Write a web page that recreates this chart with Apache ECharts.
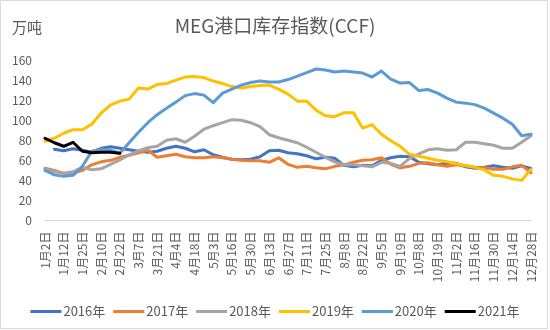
<!DOCTYPE html>
<html>
<head>
<meta charset="utf-8">
<script src="https://cdn.jsdelivr.net/npm/echarts@6/dist/echarts.min.js"></script>
<style>
  html, body { margin: 0; padding: 0; background: #fff; }
  #chart { width: 550px; height: 330px; }
</style>
</head>
<body>
<div id="chart"></div>
<script>
// Weekly sampling dates (every other one is labelled on the axis)
const categories = ['1月2日','1月7日','1月12日','1月18日','1月25日','2月1日','2月10日','2月15日','2月22日','2月28日',
  '3月7日','3月14日','3月21日','3月28日','4月4日','4月11日','4月18日','4月25日','5月3日','5月9日',
  '5月16日','5月23日','5月30日','6月6日','6月13日','6月20日','6月27日','7月4日','7月11日','7月18日',
  '7月25日','8月1日','8月8日','8月15日','8月22日','8月29日','9月5日','9月12日','9月19日','9月26日',
  '10月8日','10月12日','10月19日','10月26日','11月2日','11月9日','11月16日','11月23日','11月30日','12月7日',
  '12月14日','12月21日','12月28日'];

// Port inventory, 10k tonnes
const y2016 = [null, 71, 69.5, 71.5, 70, 68, 72, 73.5, 72, 70.5, 69, 68, 69, 72, 74, 72, 68.5, 70.5, 65.5, 63,
  61, 60.5, 61, 63.5, 69.5, 70, 67.5, 66.5, 64.5, 61.5, 63, 62, 55, 53.5, 55, 54.5, 60, 62.5, 64, 63.5,
  58, 56.5, 55.5, 57, 57, 53.5, 52, 53, 54.5, 53, 52, 54.5, 52];
const y2017 = [52, 50, 47, 47, 50, 55.5, 58.5, 60, 63, 65, 67.5, 70, 63, 64.5, 66, 63.5, 62.5, 62.5, 63.5, 62.5,
  61, 60, 59.5, 59.5, 58, 62.5, 56, 53, 54, 52.5, 51.5, 54, 55.5, 58, 60, 60.5, 62.5, 56, 52.5, 54,
  57, 57.5, 55.5, 54, 55.5, 54.5, 53, 52.5, 51, 51, 53.5, 55, 47.5];
const y2018 = [52, 48.5, 47, 48.5, 53, 50.5, 51.5, 56, 60.5, 65.5, 69.5, 72.5, 74, 80, 81.5, 78, 84, 91, 94.5, 97.5,
  100.5, 100, 97.5, 93.5, 85.5, 82.5, 80, 77.5, 73, 68, 63, 58.5, 55.5, 55.5, 54.5, 53.5, 58, 57, 54, 62,
  66.5, 70.5, 71.5, 70, 70.5, 78, 78, 76.5, 75, 72, 72, 78, 84.5];
const y2019 = [79, 82, 87, 90.5, 90.5, 96, 107, 115, 119, 121, 132, 131, 135.5, 136.5, 140, 143, 143.5, 142.5, 139, 136.5,
  133.5, 132, 133.5, 134.5, 135, 131, 126, 119, 119, 110, 104.5, 103.5, 107.5, 107.5, 92, 95.5, 86, 79.5, 74, 66,
  64, 62, 60, 58.5, 56.5, 54.5, 53, 50.5, 45, 44, 41.5, 40, 51];
const y2020 = [50, 45.5, 44, 45, 54, 69, 71, 70, 67, 77.5, 88, 97.5, 105.5, 112, 118, 124.5, 126.5, 125, 117.5, 127,
  131, 135, 137.5, 139, 138, 138, 140.5, 144, 147.5, 151, 150, 148, 149, 148, 147, 143, 149, 141, 137, 137.5,
  129.5, 130.5, 127, 122, 118, 117, 115.5, 112, 107, 102, 96, 84.5, 86];
const y2021 = [82, 77.5, 74, 78, 69, 67.5, 68, 68, 67];

const seriesNames = ['2016年', '2017年', '2018年', '2019年', '2020年', '2021年'];
const seriesValues = [y2016, y2017, y2018, y2019, y2020, y2021];
const seriesColors = ['#4472C4', '#ED7D31', '#A5A5A5', '#FFC000', '#5B9BD5', '#000000'];

const FONT = '"Noto Sans CJK SC", "Noto Sans", sans-serif';
const TEXT = '#595959';

const chart = echarts.init(document.getElementById('chart'), null, { renderer: 'canvas' });

chart.setOption({
  backgroundColor: '#ffffff',
  animation: false,
  textStyle: { fontFamily: FONT },
  title: {
    text: 'MEG港口库存指数(CCF)',
    left: 'center',
    top: 11,
    textStyle: { fontSize: 19, fontWeight: 'normal', color: TEXT, fontFamily: FONT }
  },
  graphic: [
    {
      type: 'rect',
      shape: { x: 0.5, y: 0.5, width: 547, height: 328 },
      style: { fill: 'none', stroke: '#D9D9D9', lineWidth: 1 },
      silent: true
    },
    {
      type: 'text',
      left: 12,
      top: 20,
      style: { text: '万吨', fontSize: 15, fill: TEXT, fontFamily: FONT }
    }
  ],
  legend: {
    data: seriesNames,
    left: 'center',
    top: 300,
    icon: 'rect',
    itemWidth: 31,
    itemHeight: 3,
    itemGap: 8,
    textStyle: { fontSize: 13, color: TEXT, fontFamily: FONT, padding: [0, 0, 0, -3] }
  },
  grid: { left: 45, right: 19, top: 60, bottom: 109.5, containLabel: false },
  xAxis: {
    type: 'category',
    data: categories,
    boundaryGap: false,
    axisLine: { lineStyle: { color: '#D9D9D9', width: 1 } },
    axisTick: { show: false },
    axisLabel: { interval: 1, rotate: 90, margin: 11, fontSize: 12, color: TEXT, fontFamily: FONT },
    splitLine: { show: false }
  },
  yAxis: {
    type: 'value',
    min: 0,
    max: 160,
    interval: 20,
    axisLine: { show: false },
    axisTick: { show: false },
    axisLabel: { margin: 13, fontSize: 12, color: TEXT, fontFamily: FONT },
    splitLine: { show: false }
  },
  series: seriesNames.map((name, k) => ({
    name: name,
    type: 'line',
    data: seriesValues[k],
    showSymbol: false,
    symbol: 'none',
    connectNulls: false,
    lineStyle: { width: 3, color: seriesColors[k], cap: 'round', join: 'round' },
    itemStyle: { color: seriesColors[k] },
    z: 2 + k
  }))
});
</script>
</body>
</html>
